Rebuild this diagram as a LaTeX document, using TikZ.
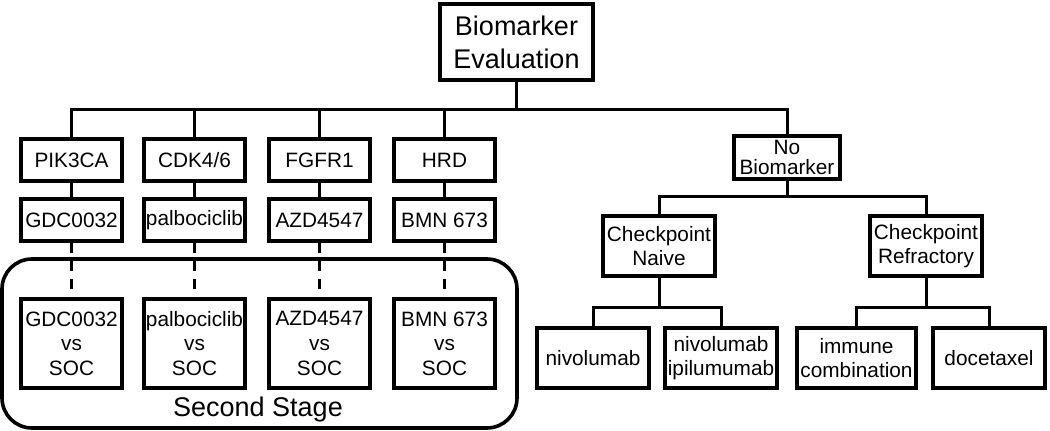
\documentclass[tikz,border=0pt]{standalone}
\usepackage{fontspec}
\setmainfont{Liberation Sans}

\tikzset{
  box/.style={draw, line width=1.8pt, align=center, inner sep=1pt, font=\fontsize{10.4}{12.3}\selectfont},
  gene/.style={box, minimum width=50.7pt, minimum height=21.2pt},
  arm/.style={box, minimum width=50.7pt, minimum height=44.7pt},
  cpbox/.style={box, minimum width=56.2pt, minimum height=30.2pt},
  link/.style={line width=1.5pt},
}

\begin{document}
\begin{tikzpicture}[x=0.5pt,y=-0.5pt]
        \useasboundingbox (0,0) rectangle (1050,431);
        \node[box, font=\fontsize{13.5}{16.5}\selectfont, minimum width=76.7pt, minimum height=38.2pt](bio) at (516.5,42) {Biomarker\\Evaluation};
        \coordinate (bus) at (516.5,110);
        % biomarker arms
        \node[gene](pik) at (71.5,160)  {PIK3CA};
        \node[gene](cdk) at (194.5,160) {CDK4/6};
        \node[gene](fgf) at (319.5,160) {FGFR1};
        \node[gene](hrd) at (444.5,160) {HRD};
        \node[gene](gdc) at (71.5,220)  {GDC0032};
        \node[gene](pal) at (194.5,220) {palbociclib};
        \node[gene](azd) at (319.5,220) {AZD4547};
        \node[gene](bmn) at (444.5,220) {BMN 673};
        % second stage
        \draw[line width=1.8pt, rounded corners=15pt] (2,259) rectangle (517,428);
        \node[arm](gdcvs) at (71.5,343.5)  {GDC0032\\vs\\SOC};
        \node[arm](palvs) at (194.5,343.5) {palbociclib\\vs\\SOC};
        \node[arm](azdvs) at (319.5,343.5) {AZD4547\\vs\\SOC};
        \node[arm](bmnvs) at (444.5,343.5) {BMN 673\\vs\\SOC};
        \node[font=\fontsize{13.5}{16.5}\selectfont](stage) at (258,410) {Second Stage};
        % no biomarker
        \node[box, font=\fontsize{10.4}{10}\selectfont, minimum width=53.2pt, minimum height=21.7pt](nob) at (787,157.5) {No\\Biomarker};
        \coordinate (nobus) at (787,197);
        \node[cpbox](naive) at (659,246) {Checkpoint\\Naive};
        \node[cpbox](refr) at (926,246) {Checkpoint\\Refractory};
        \coordinate (naivebus) at (659,308);
        \coordinate (refrbus) at (926,308);
        \node[cpbox](nivo) at (593,358) {nivolumab};
        \node[cpbox](nivoipi) at (721,358) {nivolumab\\ipilumumab};
        \node[cpbox, minimum width=59.7pt](immune) at (856.5,358) {immune\\combination};
        \node[cpbox](doce) at (989,358) {docetaxel};

        \draw[link] (bio) -- (bus);
        \draw[link] (bus) -| (pik.north);
        \draw[link] (bus) -| (cdk.north);
        \draw[link] (bus) -| (fgf.north);
        \draw[link] (bus) -| (hrd.north);
        \draw[link] (bus) -| (nob.north);
        \draw[link] (pik) -- (gdc);
        \draw[link] (cdk) -- (pal);
        \draw[link] (fgf) -- (azd);
        \draw[link] (hrd) -- (bmn);
        \draw[link, dash pattern=on 5pt off 4pt] (gdc) -- (gdcvs);
        \draw[link, dash pattern=on 5pt off 4pt] (pal) -- (palvs);
        \draw[link, dash pattern=on 5pt off 4pt] (azd) -- (azdvs);
        \draw[link, dash pattern=on 5pt off 4pt] (bmn) -- (bmnvs);
        \draw[link] (nob) -- (nobus);
        \draw[link] (nobus) -| (naive.north);
        \draw[link] (nobus) -| (refr.north);
        \draw[link] (naive) -- (naivebus);
        \draw[link] (naivebus) -| (nivo.north);
        \draw[link] (naivebus) -| (nivoipi.north);
        \draw[link] (refr) -- (refrbus);
        \draw[link] (refrbus) -| (immune.north);
        \draw[link] (refrbus) -| (doce.north);
    \end{tikzpicture}
\end{document}
